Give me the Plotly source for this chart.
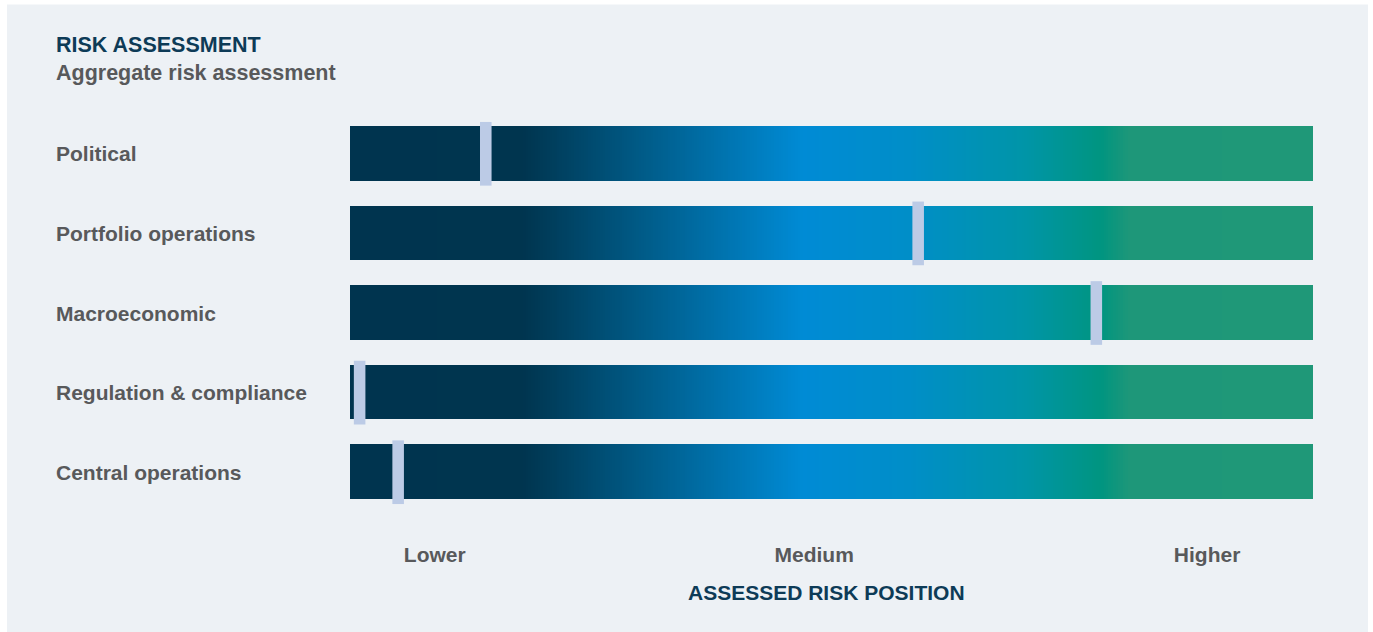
import numpy as np
import plotly.graph_objects as go

# Risk categories (top to bottom) and their assessed position on a 0-100 scale
categories = ["Political", "Portfolio operations", "Macroeconomic",
              "Regulation & compliance", "Central operations"]
risk_position = [14.1, 59.0, 77.5, 1.0, 5.0]

# Scale labels along the bottom
scale_ticks = [8.8, 48.2, 89.0]
scale_labels = ["Lower", "Medium", "Higher"]

W, H = 1373, 632
PLOT_L, PLOT_R = 350, 1313
PLOT_T, PLOT_B = 113.6, 512.4

NAVY = "#0d3b57"
GREY = "#58595b"
PANEL = "#edf1f5"
MARKER = "#bccbe6"
FONT = "Liberation Sans, Arial, sans-serif"

gradient = [
    [0.00, "#00344f"],
    [0.18, "#00354f"],
    [0.30, "#005a86"],
    [0.47, "#008bd5"],
    [0.58, "#008ec8"],
    [0.70, "#0095a8"],
    [0.78, "#009580"],
    [0.81, "#1e9779"],
    [1.00, "#1f9878"],
]

# Gradient background bands, one row per category
n_cells = 400
cell_w = 100 / n_cells
grid = np.arange(n_cells) * cell_w + cell_w / 2
z = [list(grid) for _ in categories]

fig = go.Figure()
fig.add_trace(go.Heatmap(
    x=grid, y=categories, z=z,
    colorscale=gradient, zmin=0, zmax=100,
    showscale=False, ygap=25, xgap=0, hoverinfo="skip",
))

# Position markers
marker_w = 1.2
fig.add_trace(go.Bar(
    y=categories,
    x=[marker_w] * len(categories),
    base=[v - marker_w / 2 for v in risk_position],
    orientation="h", width=0.8,
    marker=dict(color=MARKER, line=dict(width=0)),
    hovertemplate="%{y}: %{customdata}<extra></extra>",
    customdata=risk_position,
))

ph = PLOT_B - PLOT_T


def py(ypix):
    return (PLOT_B - ypix) / ph


TX = 54 / W
annotations = [
    dict(text="<b>RISK ASSESSMENT</b>", x=TX, y=py(44), xref="paper", yref="paper",
         xanchor="left", yanchor="middle", showarrow=False,
         font=dict(family=FONT, size=21.5, color=NAVY)),
    dict(text="<b>Aggregate risk assessment</b>", x=TX, y=py(73), xref="paper", yref="paper",
         xanchor="left", yanchor="middle", showarrow=False,
         font=dict(family=FONT, size=21.5, color=GREY)),
    dict(text="<b>ASSESSED RISK POSITION</b>", x=826 / W, y=py(593), xref="paper", yref="paper",
         xanchor="center", yanchor="middle", showarrow=False,
         font=dict(family=FONT, size=21, color=NAVY)),
]
for c in categories:
    annotations.append(dict(
        text=f"<b>{c}</b>", x=TX, y=c, xref="paper", yref="y",
        xanchor="left", yanchor="middle", showarrow=False,
        font=dict(family=FONT, size=21, color=GREY)))

fig.update_layout(
    width=W, height=H,
    margin=dict(l=0, r=0, t=PLOT_T, b=H - PLOT_B, pad=0),
    paper_bgcolor="white", plot_bgcolor="rgba(0,0,0,0)",
    barmode="overlay", showlegend=False,
    font=dict(family=FONT),
    annotations=annotations,
    shapes=[dict(type="rect", xref="paper", yref="paper",
                 x0=7 / W, x1=1368 / W, y0=py(H + 5), y1=py(4),
                 fillcolor=PANEL, line=dict(width=0), layer="below")],
    xaxis=dict(domain=[PLOT_L / W, PLOT_R / W], range=[0, 100],
               showgrid=False, zeroline=False, showline=False,
               tickmode="array", tickvals=scale_ticks, ticktext=[f"<b>{t}</b>" for t in scale_labels],
               ticks="", ticklabelstandoff=28,
               tickfont=dict(family=FONT, size=21, color=GREY)),
    yaxis=dict(type="category", categoryorder="array", categoryarray=categories,
               range=[len(categories) - 0.5, -0.5], showticklabels=False,
               showgrid=False, zeroline=False, showline=False, ticks=""),
)

fig.write_html("out.html")
